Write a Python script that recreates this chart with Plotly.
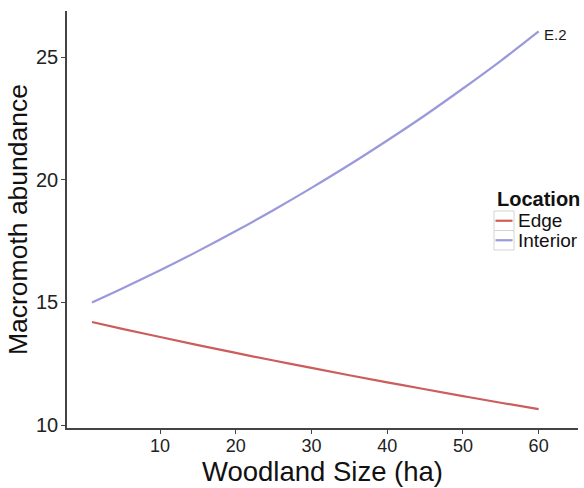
import plotly.graph_objects as go

# Woodland size (ha) at which the fitted abundance is read
woodland_size = [1, 5, 10, 15, 20, 25, 30, 35, 40, 45, 50, 55, 60]

# Fitted macromoth abundance by location
edge_abundance = [14.20, 13.92, 13.59, 13.26, 12.94, 12.63, 12.33, 12.03, 11.74, 11.46, 11.18, 10.91, 10.65]
interior_abundance = [15.00, 15.57, 16.31, 17.09, 17.91, 18.77, 19.67, 20.61, 21.60, 22.63, 23.72, 24.85, 26.05]

x_ticks = [10, 20, 30, 40, 50, 60]
y_ticks = [10, 15, 20, 25]

series = [
    ("Edge", edge_abundance, "#CD5C5C"),
    ("Interior", interior_abundance, "#9999DB"),
]

W, H = 584, 488
M_L, M_R, M_T, M_B = 67, 6, 11, 60
PLOT_W, PLOT_H = W - M_L - M_R, H - M_T - M_B


def px(x):
    """Page pixel column -> paper x."""
    return (x - M_L) / PLOT_W


def py(y):
    """Page pixel row -> paper y."""
    return (H - M_B - y) / PLOT_H


fig = go.Figure()
for name, values, colour in series:
    fig.add_trace(go.Scatter(
        x=woodland_size, y=values, name=name, mode="lines",
        line=dict(color=colour, width=2.2, shape="spline"),
        showlegend=False,
    ))

fig.add_annotation(
    x=woodland_size[-1], y=interior_abundance[-1], text="E.2",
    xref="x", yref="y", showarrow=False, xanchor="left", yanchor="middle",
    xshift=3, yshift=-3, font=dict(size=15, color="#1a1a1a"),
)

# ggplot-style legend: bold title, boxed line keys
fig.add_annotation(
    x=px(495), y=py(199.5), xref="paper", yref="paper", text="<b>Location</b>",
    showarrow=False, xanchor="left", yanchor="middle", font=dict(size=20, color="#111111"),
)
row_top = 211
row_h = 19.5
for i, (name, _, colour) in enumerate(series):
    top = row_top + i * row_h
    mid = top + row_h / 2
    fig.add_shape(
        type="rect", xref="paper", yref="paper",
        x0=px(494), x1=px(514), y0=py(top), y1=py(top + row_h),
        line=dict(color="#d4d4d4", width=1), fillcolor="white", layer="above",
    )
    fig.add_shape(
        type="line", xref="paper", yref="paper",
        x0=px(495.5), x1=px(512.5), y0=py(mid), y1=py(mid),
        line=dict(color=colour, width=2.2), layer="above",
    )
    fig.add_annotation(
        x=px(516), y=py(mid), xref="paper", yref="paper", text=name,
        showarrow=False, xanchor="left", yanchor="middle",
        font=dict(size=19, color="#111111"),
    )

axis_common = dict(
    showgrid=False, zeroline=False, showline=True, linecolor="#444444", linewidth=1.5,
    ticks="outside", ticklen=4, tickcolor="#444444", tickwidth=1.2,
)

fig.update_layout(
    width=W, height=H,
    margin=dict(l=M_L, r=M_R, t=M_T, b=M_B, autoexpand=False),
    paper_bgcolor="white", plot_bgcolor="white",
    font=dict(family="Liberation Sans, Arial, sans-serif", color="#111111"),
    showlegend=False,
    xaxis=dict(
        **axis_common, range=[-2.3, 65.2], tickvals=x_ticks, ticklabelstandoff=-3,
        tickfont=dict(size=18, color="#222222"),
        title=dict(text="Woodland Size (ha)", font=dict(size=27.5), standoff=2),
    ),
    yaxis=dict(
        **axis_common, range=[9.88, 26.88], tickvals=y_ticks, ticklabelstandoff=-1,
        tickfont=dict(size=20, color="#222222"),
        title=dict(text="Macromoth abundance", font=dict(size=26.5), standoff=1),
    ),
)

fig.write_html("out.html")
